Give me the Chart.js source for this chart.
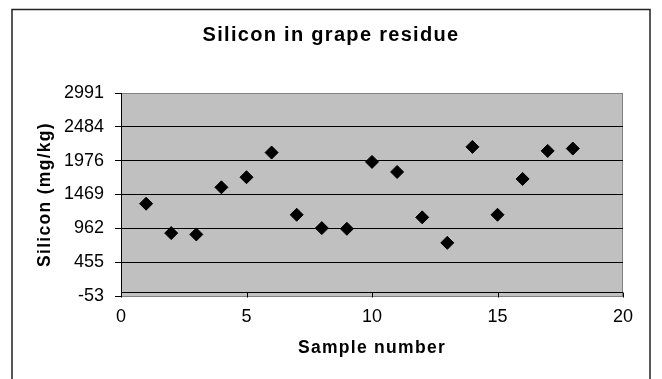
<!DOCTYPE html>
<html>
<head>
<meta charset="utf-8">
<title>Silicon in grape residue</title>
<script src="https://cdn.jsdelivr.net/npm/chart.js@4.4.0/dist/chart.umd.min.js"></script>
<style>
  html, body { margin: 0; padding: 0; background: #fff; }
</style>
</head>
<body>
<canvas id="chart" width="662" height="379"></canvas>
<script>
const sampleNumbers = [1, 2, 3, 4, 5, 6, 7, 8, 9, 10, 11, 12, 13, 14, 15, 16, 17, 18];
const silicon = [1331, 890, 870, 1577, 1728, 2098, 1165, 965, 955, 1958, 1807, 1126, 744, 2183, 1165, 1702, 2123, 2158];
const yTicks = [-53, 455, 962, 1469, 1976, 2484, 2991];
const xTicks = [0, 5, 10, 15, 20];

const FONT = 'Liberation Sans, Arial, sans-serif';

// bold titles are drawn slightly letter-spaced
const spacedBold = {
  id: 'spacedBold',
  beforeInit(chart) {
    const ctx = chart.ctx;
    const fill = ctx.fillText;
    ctx.fillText = function () {
      this.letterSpacing = this.font.indexOf('bold') === 0 ? '1.3px' : '0px';
      return fill.apply(this, arguments);
    };
  }
};

// outer frame and grey plot area
const frame = {
  id: 'frame',
  beforeDraw(chart) {
    const { ctx, chartArea: a } = chart;
    ctx.save();
    ctx.fillStyle = '#fff';
    ctx.fillRect(0, 0, chart.width, chart.height);
    ctx.strokeStyle = '#222';
    ctx.lineWidth = 1.5;
    ctx.strokeRect(12, 9.5, chart.width - 24, chart.height + 20);
    ctx.fillStyle = '#c0c0c0';
    ctx.fillRect(a.left, a.top, a.width, a.height);
    ctx.strokeStyle = '#808080';
    ctx.lineWidth = 1;
    ctx.strokeRect(Math.round(a.left) + 0.5, Math.round(a.top) + 0.5, Math.round(a.width) - 1, Math.round(a.height));
    ctx.restore();
  }
};

// horizontal axis crosses at y = 0
const zeroAxis = {
  id: 'zeroAxis',
  beforeDatasetsDraw(chart) {
    const { ctx, chartArea: a, scales: { x, y } } = chart;
    const y0 = Math.round(y.getPixelForValue(0)) + 0.5;
    ctx.save();
    ctx.strokeStyle = '#000';
    ctx.lineWidth = 1;
    ctx.beginPath();
    ctx.moveTo(a.left, y0);
    ctx.lineTo(a.right, y0);
    x.ticks.forEach(t => {
      const px = Math.round(x.getPixelForValue(t.value)) + 0.5;
      ctx.moveTo(px, y0);
      ctx.lineTo(px, y0 + 5);
    });
    ctx.stroke();
    ctx.restore();
  }
};

new Chart(document.getElementById('chart'), {
  type: 'scatter',
  data: {
    datasets: [{
      data: sampleNumbers.map((s, i) => ({ x: s, y: silicon[i] })),
      pointStyle: 'rectRot',
      pointRadius: 6.5,
      backgroundColor: '#000',
      borderColor: '#000',
      borderWidth: 1
    }]
  },
  options: {
    responsive: false,
    animation: false,
    layout: { padding: 0 },
    plugins: {
      legend: { display: false },
      tooltip: { enabled: false },
      title: {
        display: true,
        text: 'Silicon in grape residue',
        color: '#000',
        font: { family: FONT, size: 20, weight: 'bold', lineHeight: 1.2 },
        padding: { top: 23, bottom: 46 }
      }
    },
    scales: {
      x: {
        type: 'linear',
        min: 0,
        max: 20,
        afterBuildTicks: s => { s.ticks = xTicks.map(v => ({ value: v })); },
        afterFit: s => { s.height = 83; },
        grid: { display: false, drawTicks: false },
        border: { display: false },
        ticks: { color: '#000', font: { family: FONT, size: 18 }, padding: 10, maxRotation: 0, autoSkip: false },
        title: {
          display: true,
          text: 'Sample number',
          color: '#000',
          font: { family: FONT, size: 17.5, weight: 'bold', lineHeight: 1.2 },
          padding: { top: 0, bottom: 20 }
        }
      },
      y: {
        min: -53,
        max: 2991,
        afterBuildTicks: s => { s.ticks = yTicks.map(v => ({ value: v })); },
        afterFit: s => { s.width = 121; },
        grid: {
          color: c => (c.index === 0 || c.index === yTicks.length - 1) ? 'rgba(0,0,0,0)' : '#000',
          tickColor: '#000',
          tickLength: 6,
          lineWidth: 1
        },
        border: { color: '#000', width: 1 },
        ticks: { color: '#000', font: { family: FONT, size: 18 }, padding: 11, autoSkip: false, callback: v => String(v) },
        title: {
          display: true,
          text: 'Silicon (mg/kg)',
          color: '#000',
          font: { family: FONT, size: 17.5, weight: 'bold', lineHeight: 1.2 },
          padding: { top: 35, bottom: 0 }
        }
      },
      // empty right-hand margin beside the plot
      margin: {
        position: 'right',
        afterFit: s => { s.width = 39; },
        grid: { display: false },
        border: { display: false },
        ticks: { display: false }
      }
    }
  },
  plugins: [spacedBold, frame, zeroAxis]
});
</script>
</body>
</html>
